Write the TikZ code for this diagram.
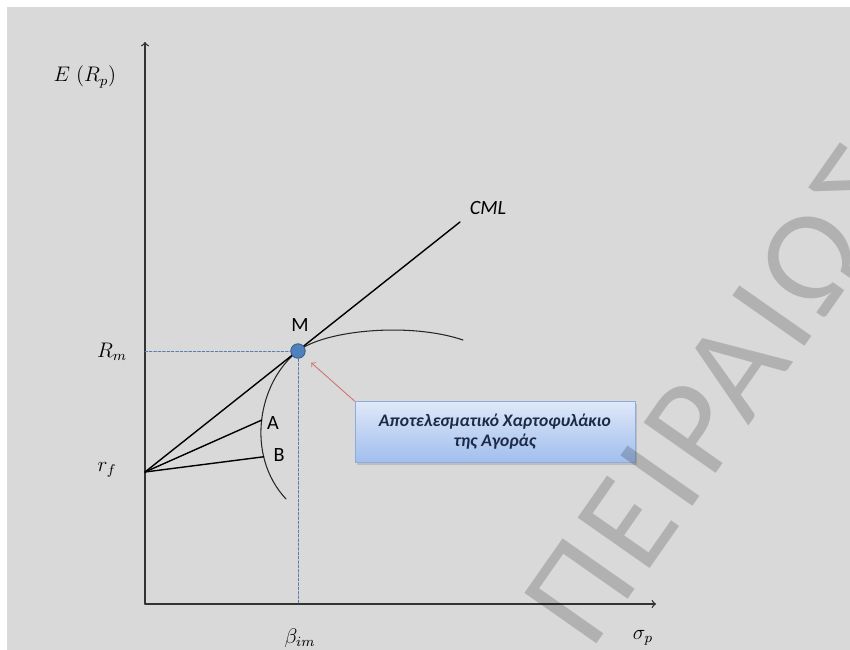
\documentclass[tikz,border=0pt]{standalone}
\usepackage{fontspec}
\setmainfont{Carlito}
\newfontfamily\wmfont[LetterSpace=5]{Carlito}
\usetikzlibrary{positioning,calc,shadows}

\definecolor{bggray}{HTML}{D9D9D9}
\definecolor{mblue}{HTML}{4F81BD}
\definecolor{mborder}{HTML}{385D8A}
\definecolor{guideblue}{HTML}{5B7DB0}
\definecolor{callred}{HTML}{C0504D}
\definecolor{boxtop}{HTML}{DFE8F8}
\definecolor{boxbot}{HTML}{A0BEEE}
\definecolor{boxline}{HTML}{8FAADC}
\definecolor{boxtext}{HTML}{1C2A48}

\tikzset{
	axis/.style={draw=black!80, line width=0.75pt},
	cml/.style={draw=black, line width=0.8pt},
	frontier/.style={draw=black!85, line width=0.6pt},
	guide/.style={draw=guideblue, line width=0.5pt, dash pattern=on 1.5pt off 1pt},
	mdot/.style={circle, fill=mblue, draw=mborder, line width=0.5pt, minimum size=0.29cm, inner sep=0pt},
	lab/.style={inner sep=1pt, font=\fontsize{11.5}{13}\selectfont},
	mlab/.style={inner sep=1pt, font=\fontsize{12}{14}\selectfont},
	callout/.style={rectangle, draw=boxline, line width=0.5pt, top color=boxtop, bottom color=boxbot,
		minimum width=5.6cm, minimum height=1.22cm, align=center, text=boxtext,
		font=\fontsize{10}{11.5}\selectfont\bfseries\itshape,
		drop shadow={shadow xshift=0.04cm, shadow yshift=-0.05cm, opacity=0.3}},
	callarrow/.style={->, draw=callred!80, line width=0.5pt, shorten >=0.2cm},
	watermark/.style={rotate=55, anchor=base west, text=black, text opacity=0.18, inner sep=0pt,
		font=\fontsize{78}{78}\selectfont\wmfont},
}

\begin{document}
\begin{tikzpicture}[x=0.02cm, y=-0.02cm, >=to, line join=round, line cap=round]
	% nen
	\fill[white] (0,0) rectangle (850,650);
	\fill[bggray] (7,7) rectangle (850,650);
	\useasboundingbox (0,0) rectangle (850,650);
	\coordinate (O) at (145,604);
	\coordinate (ytop) at (145,42);
	\coordinate (xend) at (656,604);
	\coordinate (rf) at (145,472);
	\coordinate (Mpt) at (298,351);
	\coordinate (cmlend) at (460,222);
	\coordinate (flow) at (286,499);
	\coordinate (fhigh) at (463,340);
	\draw[axis,->] (O) -- (ytop);
	\draw[axis,->] (O) -- (xend);
	% duong bien hieu qua
	\draw[frontier] (flow) .. controls (245,455) and (258,382) .. (Mpt)
		coordinate[pos=0.5] (pA) coordinate[pos=0.28] (pB);
	\draw[frontier] (Mpt) .. controls (325,330) and (410,322) .. (fhigh);
	\draw[cml] (rf) -- (cmlend);
	\draw[cml] (rf) -- (pA);
	\draw[cml] (rf) -- (pB);
	\node[mdot] (M) at (Mpt) {};
	\coordinate (yM) at (O |- Mpt);
	\coordinate (xM) at (Mpt |- O);
	\draw[guide] (yM) -- (M.west);
	\draw[guide] (M.south) -- (xM);
	% nhan
	\node[mlab] (Erp) at (85,77) {$E\;(R_p)$};
	\node[mlab] (Rm) at (112,352) {$R_m$};
	\node[mlab] (rflab) at (107,470) {$r_f$};
	\node[mlab] (beta) at (300,638) {$\beta_{im}$};
	\node[mlab] (sigma) at (643,638) {$\sigma_p$};
	\node[lab] (Mlab) at (300,325) {M};
	\node[lab] (Alab) at (273,423) {A};
	\node[lab] (Blab) at (279,455) {B};
	\node[lab, font=\fontsize{11.5}{13}\selectfont\itshape] (cmllab) at (488,208) {CML};
	\node[callout] (box) at (495,432) {Αποτελεσματικό Χαρτοφυλάκιο\\της Αγοράς};
	\draw[callarrow] (box.north west) -- (M);
	% watermark
	\begin{scope}
		\clip (0,0) rectangle (850,650);
		\node[watermark] (wm) at (591,652) {ΠΕΙΡΑΙΩΣ};
	\end{scope}
\end{tikzpicture}
\end{document}
